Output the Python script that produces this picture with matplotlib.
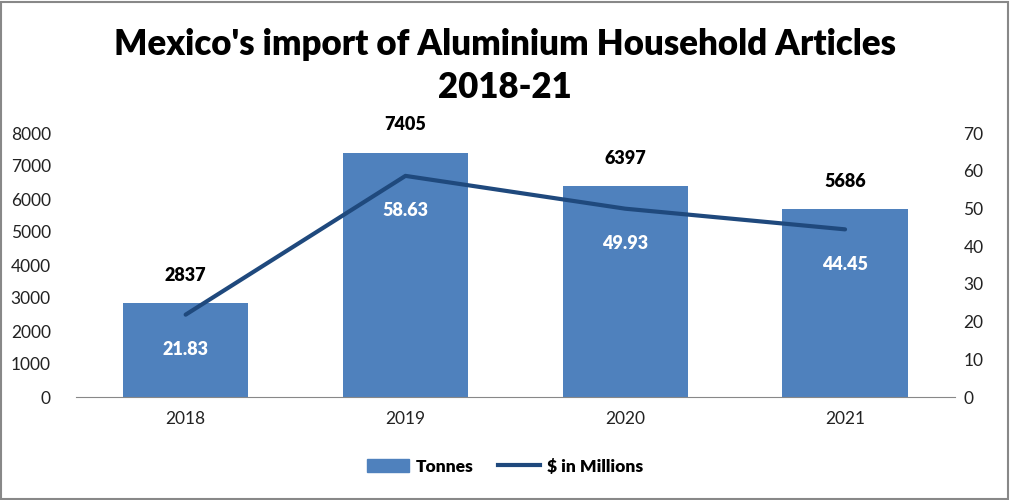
import matplotlib.pyplot as plt
from matplotlib.patches import Rectangle
import numpy as np

years = ['2018', '2019', '2020', '2021']
tonnes = [2837, 7405, 6397, 5686]
usd_millions = [21.83, 58.63, 49.93, 44.45]

BAR_COLOR = '#4F81BD'
LINE_COLOR = '#1F497D'

plt.rcParams['font.family'] = ['Lato', 'DejaVu Sans']

fig = plt.figure(figsize=(10.1, 5.0), dpi=100)
ax = fig.add_axes([0.075, 0.206, 0.8705, 0.528])
ax2 = ax.twinx()

x = np.arange(len(years))
ax.bar(x, tonnes, width=0.57, color=BAR_COLOR, zorder=2)
ax.set_xlim(-0.5, len(years) - 0.5)
ax.set_ylim(0, 8000)
ax.set_yticks(range(0, 8001, 1000))
ax.set_xticks(x)
ax.set_xticklabels(years)

ax2.plot(x, usd_millions, color=LINE_COLOR, linewidth=3, solid_capstyle='round', zorder=3)
ax2.set_ylim(0, 70)
ax2.set_yticks(range(0, 71, 10))

for a in (ax, ax2):
    for s in a.spines.values():
        s.set_visible(False)
    a.tick_params(length=0, labelsize=12.5, colors='#222222')
ax.spines['bottom'].set_visible(True)
ax.spines['bottom'].set_color('#888888')
ax.tick_params(axis='y', pad=18)
ax.tick_params(axis='x', pad=10)
ax2.tick_params(axis='y', pad=6)

for xi, t in zip(x, tonnes):
    ax.annotate(str(t), (xi, t), xytext=(0, 20), textcoords='offset points',
                ha='center', va='center', fontsize=13, fontweight='heavy', color='black')
for xi, v in zip(x, usd_millions):
    ax2.annotate(f'{v:.2f}', (xi, v), xytext=(0, -25), textcoords='offset points',
                 ha='center', va='center', fontsize=13, fontweight='heavy', color='white', zorder=4)

fig.text(0.5, 0.868, "Mexico's import of Aluminium Household Articles\n2018-21",
         ha='center', va='center', fontsize=25, fontweight='heavy', linespacing=1.4)

h1 = Rectangle((0, 0), 1, 1, color=BAR_COLOR)
h2 = plt.Line2D([], [], color=LINE_COLOR, linewidth=3)
fig.legend([h1, h2], ['Tonnes', '$ in Millions'], loc='center', bbox_to_anchor=(0.5, 0.067),
           ncol=2, frameon=False, prop={'weight': 'heavy', 'size': 12.5},
           handlelength=2.4, handletextpad=0.4, columnspacing=1.4)

fig.patches.append(Rectangle((0.001, 0.002), 0.997, 0.995, transform=fig.transFigure,
                             fill=False, edgecolor='#888888', linewidth=1.5))

fig.savefig('out.png', dpi=100, facecolor='white')
